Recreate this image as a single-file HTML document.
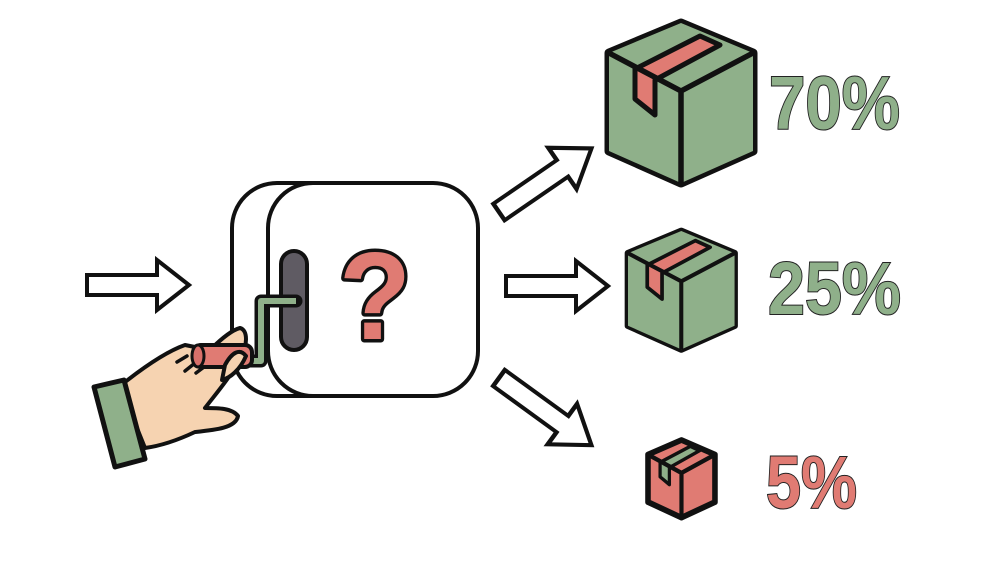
<!DOCTYPE html>
<html><head><meta charset="utf-8"><style>
html,body{margin:0;padding:0;background:#fff;width:1000px;height:563px;overflow:hidden}
</style></head><body>
<svg width="1000" height="563" viewBox="0 0 1000 563" xmlns="http://www.w3.org/2000/svg">
<defs>
<path id="arr" d="M0,-10 L70,-10 L70,-25 L102,0 L70,25 L70,10 L0,10 Z" fill="#fff" stroke="#111" stroke-width="4" stroke-linejoin="miter"/>
<g id="cubeG">
<path d="M72,0 L144,30 L144,128 L72,160 L0,128 L0,30 Z" fill="#8fb08a" stroke="#111" stroke-width="9" stroke-linejoin="round"/>
<path d="M72,0 L144,30 L144,128 L72,160 L0,128 L0,30 Z" fill="#8fb08a" stroke="#8fb08a" stroke-width="0"/>
<path d="M91,13 L111,22 L46,57 L46,92 L26,76 L26,46 Z" fill="#e07b73" stroke="#111" stroke-width="5" stroke-linejoin="round"/>
<path d="M0,30 L72,68 L144,30 M72,68 L72,160" fill="none" stroke="#111" stroke-width="5.5" stroke-linejoin="round"/>
</g>
<g id="cubeR">
<path d="M72,0 L144,30 L144,128 L72,160 L0,128 L0,30 Z" fill="#e07b73" stroke="#111" stroke-width="12" stroke-linejoin="round"/>
<path d="M91,13 L111,22 L46,57 L46,92 L26,76 L26,46 Z" fill="#8fb08a" stroke="#111" stroke-width="7" stroke-linejoin="round"/>
<path d="M0,30 L72,68 L144,30 M72,68 L72,160" fill="none" stroke="#111" stroke-width="9" stroke-linejoin="round"/>
</g>
</defs>

<use href="#arr" transform="translate(87,285)"/>
<use href="#arr" transform="translate(506,286)"/>
<use href="#arr" transform="translate(499,212) rotate(-34.5) scale(1.1,1)"/>
<use href="#arr" transform="translate(499,378) rotate(36) scale(1.12,1)"/>

<rect x="232" y="183" width="215" height="213" rx="45" fill="#fff" stroke="#111" stroke-width="4"/>
<rect x="268" y="183" width="210" height="213" rx="45" fill="#fff" stroke="#111" stroke-width="4"/>
<rect x="281" y="251" width="26" height="99" rx="13" fill="#5f5b63" stroke="#111" stroke-width="4"/>
<text x="375" y="339" font-family="Liberation Sans, sans-serif" font-weight="bold" font-size="124" text-anchor="middle" fill="#e07b73" stroke="#111" stroke-width="7" stroke-linejoin="round" paint-order="stroke" textLength="72" lengthAdjust="spacingAndGlyphs">?</text>

<path d="M296,301 L261,301 L261,361 L245,361" fill="none" stroke="#111" stroke-width="13" stroke-linejoin="round" stroke-linecap="round"/>
<path d="M296,301 L261,301 L261,361 L245,361" fill="none" stroke="#8fb08a" stroke-width="6" stroke-linejoin="round"/>

<path d="M120,386 C140,370 165,352 185,345 L210,350 C222,338 232,330 240,328 C248,330 248,345 240,360 L232,372 C226,382 215,395 205,408 C218,408 232,408 238,416 C236,428 215,430 195,432 C178,440 160,446 145,448 Z" fill="#f6d3b1" stroke="#111" stroke-width="4" stroke-linejoin="round"/>
<path d="M177,362 l10,-6 M185,371 l10,-8 M196,373 l8,-6" stroke="#111" stroke-width="3.5" stroke-linecap="round"/>
<rect x="194" y="345" width="58" height="22" rx="7" fill="#e07b73" stroke="#111" stroke-width="4"/>
<ellipse cx="198" cy="356" rx="6" ry="11" fill="#d8706a" stroke="#111" stroke-width="3"/>
<path d="M225,365 C232,352 240,348 246,356 C240,370 230,378 222,380 Z" fill="#f6d3b1" stroke="#111" stroke-width="4" stroke-linejoin="round"/>
<path d="M94,387 L124,380 L145,459 L115,467 Z" fill="#8fb08a" stroke="#111" stroke-width="5" stroke-linejoin="round"/>

<use href="#cubeG" transform="translate(609,23)"/>
<use href="#cubeG" transform="translate(628,231) scale(0.74)"/>
<use href="#cubeR" transform="translate(648,440) scale(0.465,0.485)"/>

<g font-family="Liberation Sans, sans-serif" font-weight="bold" stroke="#222" stroke-width="2" paint-order="stroke">
<text x="769" y="129" font-size="75" fill="#8fb08a" textLength="131" lengthAdjust="spacingAndGlyphs">70%</text>
<text x="768" y="314" font-size="74" fill="#8fb08a" textLength="133" lengthAdjust="spacingAndGlyphs">25%</text>
<text x="766" y="508" font-size="74" fill="#e07b73" textLength="91" lengthAdjust="spacingAndGlyphs">5%</text>
</g>
</svg>
</body></html>
